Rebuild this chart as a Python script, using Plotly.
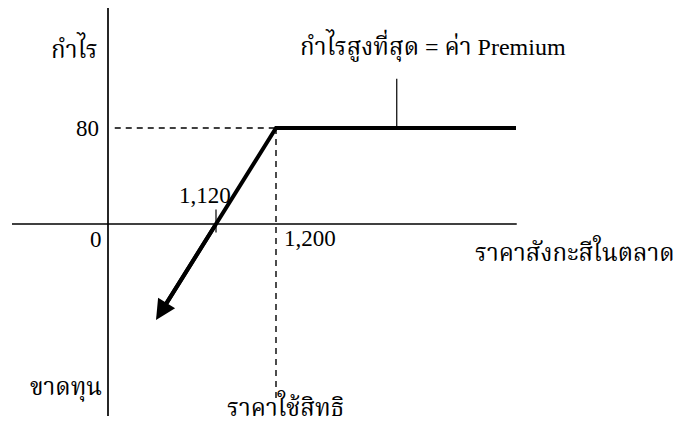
import plotly.graph_objects as go

# ---- data ----
strike = 1200          # ราคาใช้สิทธิ
breakeven = 1120
premium = 80
payoff_x = [1520, 1200, 1040]
payoff_y = [80, 80, -80]
x_axis_span = [848, 1521]
y_axis_x = 976
y_axis_span = [-160, 180]

FONT = "Liberation Serif, Times New Roman, Noto Serif Thai, Noto Sans Thai, serif"

fig = go.Figure()

# axes
fig.add_trace(go.Scatter(x=x_axis_span, y=[0, 0], mode="lines",
                         line=dict(color="black", width=1.7), hoverinfo="skip"))
fig.add_trace(go.Scatter(x=[y_axis_x, y_axis_x], y=y_axis_span, mode="lines",
                         line=dict(color="black", width=1.7), hoverinfo="skip"))
# dashed guides
fig.add_trace(go.Scatter(x=[y_axis_x + 9, strike], y=[premium, premium], mode="lines",
                         line=dict(color="black", width=1.4, dash="6px,5px"), hoverinfo="skip"))
fig.add_trace(go.Scatter(x=[strike, strike], y=[premium, -146], mode="lines",
                         line=dict(color="black", width=1.4, dash="6px,5px"), hoverinfo="skip"))
# tick at break-even
fig.add_trace(go.Scatter(x=[breakeven, breakeven], y=[12, -7], mode="lines",
                         line=dict(color="black", width=1.2), hoverinfo="skip"))
# pointer line from label to max-profit line
fig.add_trace(go.Scatter(x=[1361, 1361], y=[premium, 121], mode="lines",
                         line=dict(color="black", width=1.2), hoverinfo="skip"))
# payoff line
fig.add_trace(go.Scatter(x=payoff_x[:-1] + [payoff_x[-1] + 8], y=payoff_y[:-1] + [payoff_y[-1] + 8],
                         mode="lines", line=dict(color="black", width=4), hoverinfo="skip"))
# arrow head at the loss end of the payoff line
fig.add_annotation(x=payoff_x[-1], y=payoff_y[-1], ax=breakeven, ay=0,
                   xref="x", yref="y", axref="x", ayref="y", text="",
                   showarrow=True, arrowhead=2, arrowsize=1.0, arrowwidth=4,
                   arrowcolor="black")

def txt(x, y, s, xanchor="center", size=23):
    fig.add_annotation(x=x, y=y, xref="x", yref="y", text=s, showarrow=False,
                       xanchor=xanchor, yanchor="middle",
                       font=dict(family=FONT, size=size, color="black"))

txt(965, 147, "กำไร", "right", 24)
txt(966, premium, "80", "right")
txt(1409, 149, "กำไรสูงที่สุด = ค่า Premium", "center", 24)
txt(1105, 24, "1,120")
txt(971, -13, "0", "right")
txt(1208, -12, "1,200", "left")
txt(1735, -22, "ราคาสังกะสีในตลาด", "right", 24)
txt(971, -137, "ขาดทุน", "right", 24)
txt(1212, -151, "ราคาใช้สิทธิ", "center", 24)

fig.update_layout(
    width=678, height=421,
    margin=dict(l=0, r=0, t=0, b=0),
    paper_bgcolor="white", plot_bgcolor="white",
    showlegend=False,
    xaxis=dict(range=[832, 1736], visible=False, fixedrange=True),
    yaxis=dict(range=[-164.17, 186.67], visible=False, fixedrange=True),
)

fig.write_html("out.html", config={"displayModeBar": False},
               post_script="document.body.style.margin='0';document.body.style.overflow='hidden';")
